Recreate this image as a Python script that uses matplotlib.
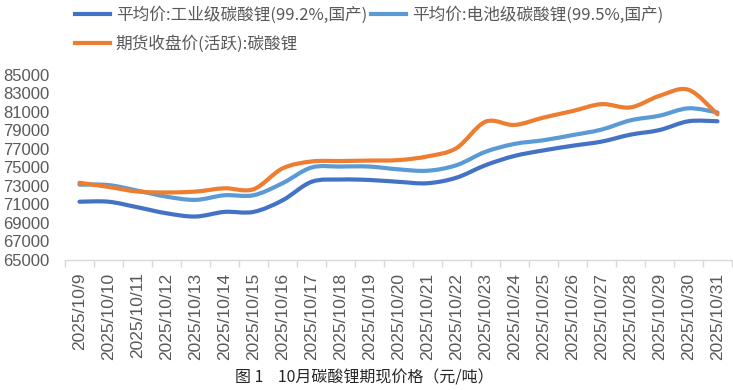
import matplotlib
matplotlib.use("Agg")
import matplotlib.pyplot as plt
from matplotlib.path import Path
from matplotlib.patches import PathPatch
from matplotlib.lines import Line2D
import numpy as np

dates = [f"2025/10/{d}" for d in range(9, 32)]

industrial = [71300, 71300, 70700, 70050, 69700, 70200, 70200, 71450, 73450, 73700,
              73650, 73450, 73300, 73900, 75250, 76250, 76850, 77350, 77800, 78550,
              79050, 80000, 80000]
battery = [73150, 73100, 72500, 71850, 71500, 72000, 72000, 73300, 75000, 75100,
           75100, 74800, 74650, 75250, 76700, 77550, 77950, 78500, 79100, 80100,
           80600, 81400, 80950]
futures = [73350, 72900, 72400, 72300, 72400, 72750, 72650, 74900, 75650, 75700,
           75750, 75800, 76200, 77100, 79950, 79600, 80400, 81100, 81850, 81500,
           82750, 83400, 80750]

names = ["平均价:工业级碳酸锂(99.2%,国产)", "平均价:电池级碳酸锂(99.5%,国产)",
         "期货收盘价(活跃):碳酸锂"]
colors = ["#4472C4", "#5B9BD5", "#ED7D31"]

CJK = ["Noto Sans CJK SC", "DejaVu Sans"]
GRAY = "#595959"


def smooth_path(y):
    # excel-style smoothed line: cubic bezier through the points
    x = np.arange(len(y), dtype=float)
    pts = np.column_stack([x, np.asarray(y, dtype=float)])
    verts = [pts[0]]
    codes = [Path.MOVETO]
    n = len(pts)
    for i in range(n - 1):
        p0 = pts[max(i - 1, 0)]
        p1 = pts[i]
        p2 = pts[i + 1]
        p3 = pts[min(i + 2, n - 1)]
        verts += [p1 + (p2 - p0) / 6, p2 - (p3 - p1) / 6, p2]
        codes += [Path.CURVE4] * 3
    return Path(verts, codes)


fig = plt.figure(figsize=(7.33, 3.9), dpi=100)
ax = fig.add_axes([65 / 733, 130 / 390, 667 / 733, 185 / 390])

for series, c in zip([industrial, battery, futures], colors):
    ax.add_patch(PathPatch(smooth_path(series), fill=False, edgecolor=c,
                           linewidth=3, capstyle="round", joinstyle="round"))

ax.set_xlim(-0.5, len(dates) - 0.5)
ax.set_ylim(65000, 85000)
ax.set_yticks(range(65000, 85001, 2000))
ax.set_yticklabels([str(v) for v in range(65000, 85001, 2000)],
                   fontsize=12, color=GRAY, family="Liberation Sans")
ax.set_xticks(range(len(dates)))
ax.set_xticklabels(dates, rotation=90, fontsize=12.5, color=GRAY,
                   family="Liberation Sans")
ax.set_xticks(np.arange(-0.5, len(dates)), minor=True)
ax.tick_params(axis="x", which="major", length=0, pad=9)
ax.tick_params(axis="x", which="minor", length=5, color="#D9D9D9", width=1)
ax.tick_params(axis="y", length=0, pad=11)
for s in ["top", "right", "left"]:
    ax.spines[s].set_visible(False)
ax.spines["bottom"].set_color("#D9D9D9")
ax.spines["bottom"].set_linewidth(1)

handles = [Line2D([], [], color=c, linewidth=3) for c in colors]
order = [0, 2, 1]
fig.legend([handles[i] for i in order], [names[i] for i in order],
           loc="upper left", bbox_to_anchor=(75 / 733, 1 - 6 / 390), ncol=2,
           frameon=False, prop={"family": CJK, "size": 12}, labelcolor=GRAY,
           handlelength=2.1, handletextpad=0.35, columnspacing=0.25,
           borderpad=0, borderaxespad=0, labelspacing=0.7)

fig.text(0.497, 12 / 390, "图 1    10月碳酸锂期现价格（元/吨）", ha="center", va="center",
         fontsize=11.5, color="#262626", family=CJK)

fig.savefig("out.png", dpi=100)
